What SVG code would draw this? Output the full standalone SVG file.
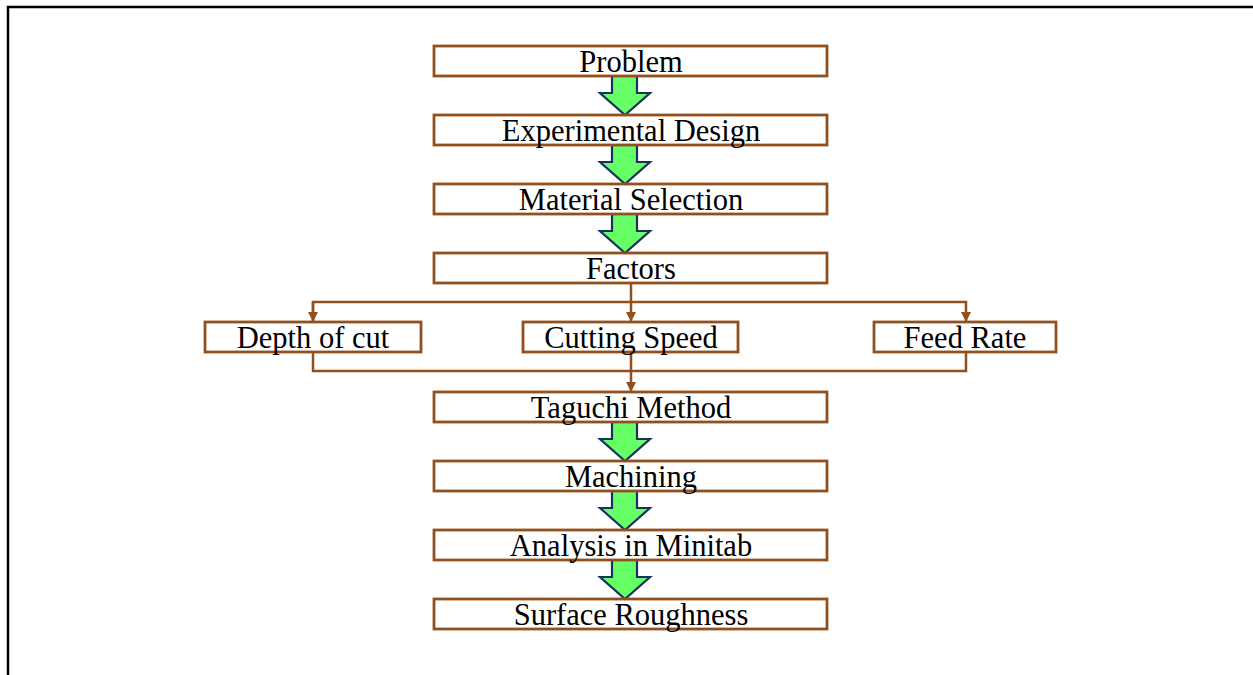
<svg xmlns="http://www.w3.org/2000/svg" width="1253" height="675" viewBox="0 0 1253 675">
<defs>
<style>
.box{fill:none;stroke:#93501F;stroke-width:2.8}
.lbl{font-family:"Liberation Serif","Times New Roman",serif;font-size:30.5px;fill:#000;text-anchor:middle}
.conn{fill:none;stroke:#93501F;stroke-width:2.5}
.blk{fill:#66FF66;stroke:#17325E;stroke-width:2.2;stroke-linejoin:miter}
</style>
<marker id="ah" viewBox="0 0 10 10" refX="9" refY="5" markerWidth="4" markerHeight="4" orient="auto" markerUnits="strokeWidth">
<path d="M0,0 L10,5 L0,10 z" fill="#93501F"/>
</marker>
</defs>
<rect width="1253" height="675" fill="#fff"/>
<path d="M8,675 V7 H1253" fill="none" stroke="#000" stroke-width="2.5"/>

<g id="connectors">
<path class="blk" d="M612,76 H637 V93 H650 L625,115 L600,93 H612 Z"/>
<path class="blk" d="M612,145 H637 V162 H650 L625,184 L600,162 H612 Z"/>
<path class="blk" d="M612,214 H637 V231 H650 L625,253 L600,231 H612 Z"/>
<path class="blk" d="M612,422 H637 V439 H650 L625,461 L600,439 H612 Z"/>
<path class="blk" d="M612,491 H637 V508 H650 L625,530 L600,508 H612 Z"/>
<path class="blk" d="M612,560 H637 V577 H650 L625,599 L600,577 H612 Z"/>
<path class="conn" d="M631,283 V302"/>
<path class="conn" d="M313,321 V302 H966 V321" marker-end="url(#ah)"/>
<path class="conn" d="M313,302 V321" marker-end="url(#ah)"/>
<path class="conn" d="M631,302 V321" marker-end="url(#ah)"/>
<path class="conn" d="M313,352 V371 H966 V352"/>
<path class="conn" d="M631,352 V391" marker-end="url(#ah)"/>
</g>

<g id="n-problem"><rect class="box" x="434" y="46" width="393" height="30"/><text class="lbl" x="631" y="72">Problem</text></g>
<g id="n-design"><rect class="box" x="434" y="115" width="393" height="30"/><text class="lbl" x="631" y="141">Experimental Design</text></g>
<g id="n-material"><rect class="box" x="434" y="184" width="393" height="30"/><text class="lbl" x="631" y="210">Material Selection</text></g>
<g id="n-factors"><rect class="box" x="434" y="253" width="393" height="30"/><text class="lbl" x="631" y="279">Factors</text></g>
<g id="n-depth"><rect class="box" x="205" y="322" width="216" height="30"/><text class="lbl" x="313" y="348">Depth of cut</text></g>
<g id="n-speed"><rect class="box" x="523" y="322" width="215" height="30"/><text class="lbl" x="631" y="348">Cutting Speed</text></g>
<g id="n-feed"><rect class="box" x="874" y="322" width="182" height="30"/><text class="lbl" x="965" y="348">Feed Rate</text></g>
<g id="n-taguchi"><rect class="box" x="434" y="392" width="393" height="30"/><text class="lbl" x="631" y="418">Taguchi Method</text></g>
<g id="n-machining"><rect class="box" x="434" y="461" width="393" height="30"/><text class="lbl" x="631" y="487">Machining</text></g>
<g id="n-analysis"><rect class="box" x="434" y="530" width="393" height="30"/><text class="lbl" x="631" y="556">Analysis in Minitab</text></g>
<g id="n-surface"><rect class="box" x="434" y="599" width="393" height="30"/><text class="lbl" x="631" y="625">Surface Roughness</text></g>
</svg>
